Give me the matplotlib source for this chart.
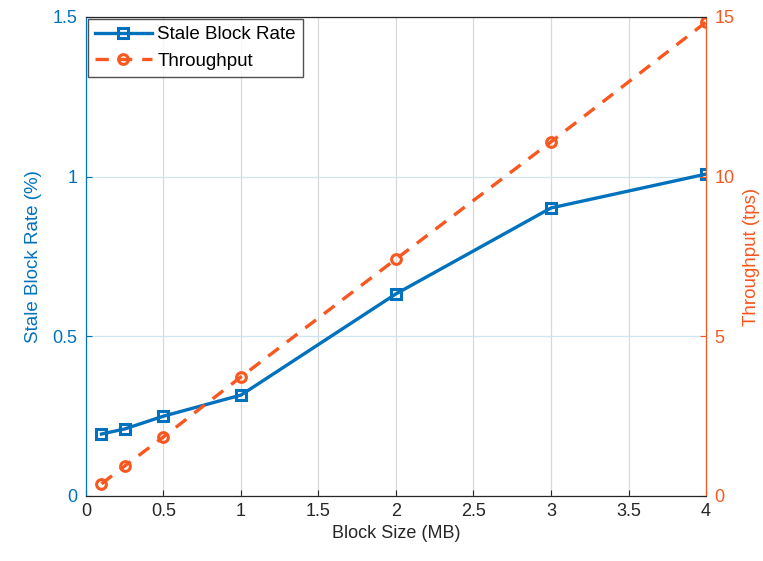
import numpy as np
import matplotlib.pyplot as plt

plt.rcParams['font.family'] = ['Liberation Sans', 'DejaVu Sans']

block_size = [0.1, 0.25, 0.5, 1, 2, 3, 4]
stale_rate = [0.194, 0.21, 0.25, 0.316, 0.633, 0.902, 1.008]
throughput = [0.38, 0.94, 1.85, 3.73, 7.42, 11.09, 14.84]

blue = '#0072BD'
orange = '#F8571F'

fig = plt.figure(figsize=(7.63, 5.61), dpi=100)
ax = fig.add_axes([0.1127, 0.1159, 0.8126, 0.8538])
ax2 = ax.twinx()

l1, = ax.plot(block_size, stale_rate, '-s', color=blue, lw=2.4, ms=7,
              mfc='none', mew=2.2, label='Stale Block Rate')
l2, = ax2.plot(block_size, throughput, '--o', color=orange, lw=2.4, ms=7,
               mfc='none', mew=2.2, label='Throughput', dashes=(4, 3))

ax.set_xlim(0, 4)
ax.set_ylim(0, 1.5)
ax2.set_ylim(0, 15)
ax.set_xticks(np.arange(0, 4.01, 0.5))
ax.set_xticklabels(['0', '0.5', '1', '1.5', '2', '2.5', '3', '3.5', '4'])
ax.set_yticks([0, 0.5, 1, 1.5])
ax.set_yticklabels(['0', '0.5', '1', '1.5'])
ax2.set_yticks([0, 5, 10, 15])

ax.grid(True, axis='x', color='#d9d9d9', lw=0.9)
ax.grid(True, axis='y', color='#cfe6f2', lw=0.9)
ax.set_axisbelow(True)

ax.tick_params(axis='x', direction='in', colors='#262626', labelsize=13, length=4, pad=5)
ax.tick_params(axis='y', direction='in', colors=blue, labelsize=13, length=4, pad=6)
ax2.tick_params(axis='y', direction='in', colors=orange, labelsize=13, length=4, pad=6)

for s in ['top', 'bottom']:
    ax2.spines[s].set_color('#262626')
ax2.spines['left'].set_color(blue)
ax2.spines['right'].set_color(orange)
ax.spines['left'].set_color(blue)
ax.spines['right'].set_color(orange)

ax.set_xlabel('Block Size (MB)', fontsize=13, color='#262626', labelpad=4)
ax.set_ylabel('Stale Block Rate (%)', fontsize=13.5, color=blue, labelpad=8)
ax2.set_ylabel('Throughput (tps)', fontsize=13.5, color=orange, labelpad=6)

leg = ax2.legend([l1, l2], ['Stale Block Rate', 'Throughput'], loc='upper left',
                 fontsize=13.5, fancybox=False, edgecolor='#262626',
                 borderaxespad=0.1, handlelength=3, borderpad=0.4, labelspacing=0.5,
                 handletextpad=0.3)
leg.get_frame().set_linewidth(1)

fig.savefig('out.png', dpi=100)
